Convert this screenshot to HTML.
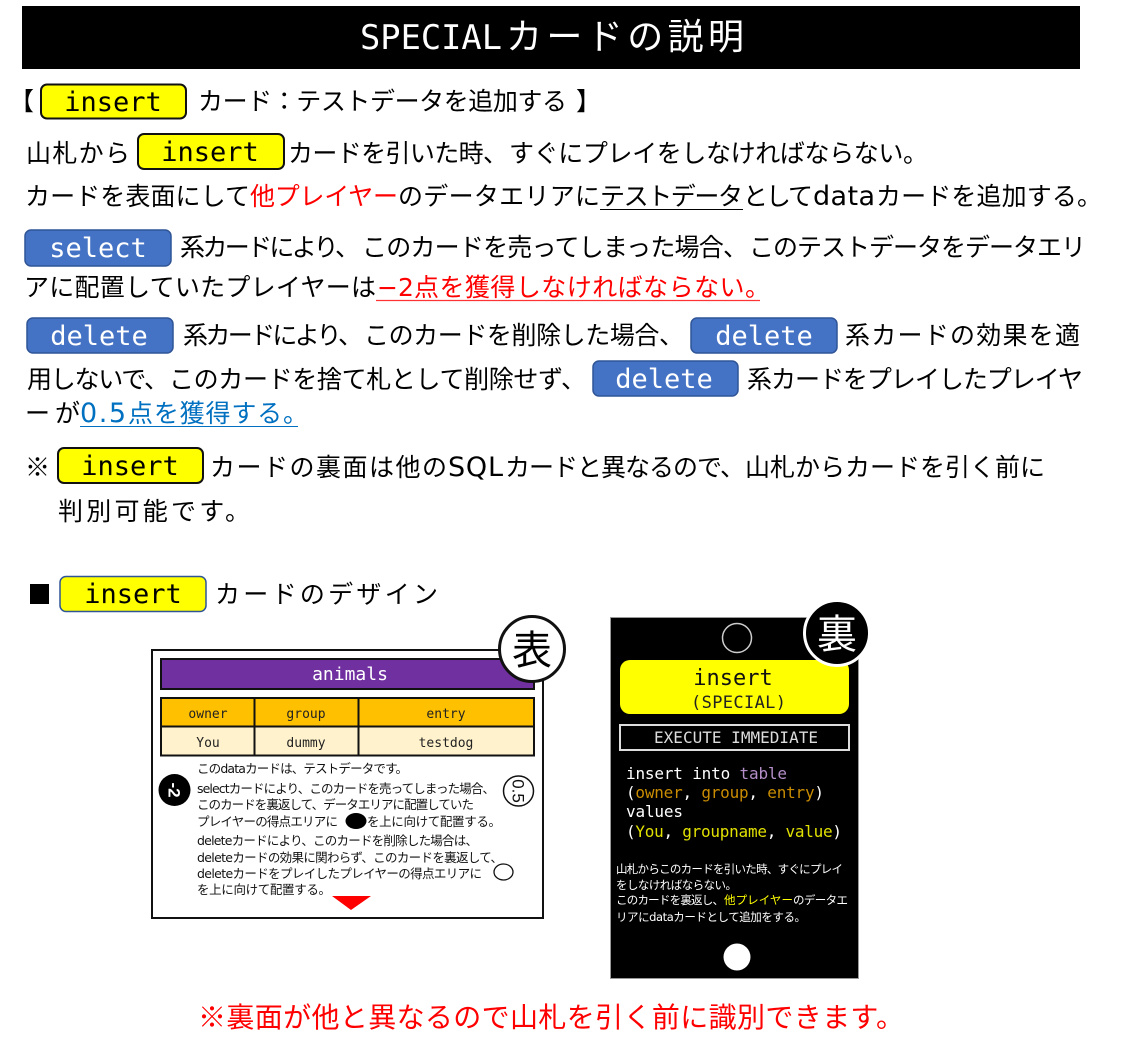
<!DOCTYPE html>
<html lang="ja"><head><meta charset="utf-8"><title>SPECIALカードの説明</title>
<style>
html,body{margin:0;padding:0;background:#fff}
svg{display:block}
text{white-space:pre;font-family:"Liberation Sans","WenQuanYi Zen Hei","Noto Sans CJK JP",sans-serif}
.j{font-family:"WenQuanYi Zen Hei","Noto Sans CJK JP",sans-serif;font-size:25px;fill:#000}
.s{font-family:"WenQuanYi Zen Hei","Noto Sans CJK JP",sans-serif;font-size:12.5px;fill:#111}
.w{font-family:"WenQuanYi Zen Hei","Noto Sans CJK JP",sans-serif;font-size:11.5px;fill:#fff}
.d{font-family:"DejaVu Sans",sans-serif}
.m{font-family:"DejaVu Sans Mono","Liberation Mono",monospace}
.pt{font-family:"DejaVu Sans Mono","Liberation Mono",monospace;font-size:27px;text-anchor:middle}
.c{font-family:"DejaVu Sans Mono","Liberation Mono",monospace;font-size:16px;fill:#fff}
.t{font-family:"DejaVu Sans Mono","Liberation Mono",monospace;font-size:13px;text-anchor:middle;fill:#222}
</style></head><body>
<svg width="1125" height="1052" viewBox="0 0 1125 1052" xmlns="http://www.w3.org/2000/svg">
<rect x="22" y="6" width="1058" height="63" fill="#000"/>
<text class="m" x="360" y="49" font-size="34" fill="#fff" textLength="142" lengthAdjust="spacingAndGlyphs">SPECIAL</text>
<text x="506" y="49" font-size="36" fill="#fff" textLength="238" style="font-family:'WenQuanYi Zen Hei','Noto Sans CJK JP',sans-serif">カードの説明</text>

<text class="j" x="9" y="110">【</text>
<rect x="41" y="84.500" width="145" height="34" rx="6" fill="#ff0" stroke="#111" stroke-width="2"/>
<text class="pt" x="113" y="111">insert</text>
<text class="j" x="198" y="110" textLength="369">カード：テストデータを追加する</text>
<text class="j" x="576" y="110">】</text>

<text class="j" x="26" y="162" textLength="104">山札から</text>
<rect x="138" y="134" width="146" height="35" rx="6" fill="#ff0" stroke="#111" stroke-width="2"/>
<text class="pt" x="210" y="161">insert</text>
<text class="j" x="288" y="162" textLength="220">カードを引いた時、</text>
<text class="j" x="509" y="162" textLength="419">すぐにプレイをしなければならない。</text>

<text class="j" x="25" y="205" textLength="225">カードを表面にして</text>
<text class="j" x="250" y="205" textLength="148" style="fill:#f00">他プレイヤー</text>
<text class="j" x="398" y="205" textLength="202">のデータエリアに</text>
<text class="j" x="600" y="205" textLength="143">テストデータ</text>
<line x1="600" y1="209.500" x2="743" y2="209.500" stroke="#000" stroke-width="1"/>
<text class="j" x="743" y="205" textLength="70">として</text>
<text class="d" x="813" y="205" font-size="27" textLength="62">data</text>
<text class="j" x="876" y="205" textLength="226">カードを追加する。</text>

<rect x="25" y="230" width="146" height="36" rx="6" fill="#4472c4" stroke="#2f5597" stroke-width="1.500"/>
<text class="pt" x="98" y="257" style="fill:#fff">select</text>
<text class="j" x="180" y="256" textLength="180">系カードにより、</text>
<text class="j" x="362" y="256" textLength="386">このカードを売ってしまった場合、</text>
<text class="j" x="749" y="256" textLength="337">このテストデータをデータエリ</text>

<text class="j" x="24" y="296" textLength="352">アに配置していたプレイヤーは</text>
<text class="d" x="377" y="296" font-size="25" fill="#f00">−2</text>
<text class="j" x="414" y="296" textLength="356" style="fill:#f00">点を獲得しなければならない。</text>
<line x1="376" y1="300.500" x2="760" y2="300.500" stroke="#f33" stroke-width="1.200"/>

<rect x="27" y="318" width="146" height="35" rx="6" fill="#4472c4" stroke="#2f5597" stroke-width="1.500"/>
<text class="pt" x="99" y="345" style="fill:#fff">delete</text>
<text class="j" x="183" y="344" textLength="180">系カードにより、</text>
<text class="j" x="364" y="344" textLength="320">このカードを削除した場合、</text>
<rect x="691" y="318" width="146" height="35" rx="6" fill="#4472c4" stroke="#2f5597" stroke-width="1.500"/>
<text class="pt" x="764" y="345" style="fill:#fff">delete</text>
<text class="j" x="845" y="344" textLength="235">系カードの効果を適</text>

<text class="j" x="27" y="388" textLength="142">用しないで、</text>
<text class="j" x="169" y="388" textLength="417">このカードを捨て札として削除せず、</text>
<rect x="593" y="361" width="145" height="35" rx="6" fill="#4472c4" stroke="#2f5597" stroke-width="1.500"/>
<text class="pt" x="664" y="388" style="fill:#fff">delete</text>
<text class="j" x="747" y="388" textLength="336">系カードをプレイしたプレイヤ</text>

<text class="j" x="25" y="422" textLength="55">ーが</text>
<text class="d" x="80" y="422" font-size="27" fill="#0070c0" textLength="46">0.5</text>
<text class="j" x="128" y="422" textLength="180" style="fill:#0070c0">点を獲得する。</text>
<line x1="80" y1="426.500" x2="298" y2="426.500" stroke="#0070c0" stroke-width="1"/>

<text class="j" x="25" y="476">※</text>
<rect x="58" y="448" width="145" height="35" rx="6" fill="#ff0" stroke="#111" stroke-width="2"/>
<text class="pt" x="130" y="475">insert</text>
<text class="j" x="210" y="476" textLength="237">カードの裏面は他の</text>
<text class="d" x="448" y="476" font-size="27" textLength="55">SQL</text>
<text class="j" x="505" y="476" textLength="240">カードと異なるので、</text>
<text class="j" x="745" y="476" textLength="300">山札からカードを引く前に</text>
<text class="j" x="58" y="520" textLength="192">判別可能です。</text>

<rect x="30" y="584" width="19" height="20" fill="#000"/>
<rect x="60" y="576.500" width="146" height="35" rx="6" fill="#ff0" stroke="#2f5597" stroke-width="1.500"/>
<text class="pt" x="133" y="603">insert</text>
<text class="j" x="215" y="603" textLength="223">カードのデザイン</text>

<!-- front card -->
<rect x="152" y="650" width="391" height="268" fill="#fff" stroke="#111" stroke-width="2"/>
<rect x="161" y="659" width="373" height="30" fill="#7030a0" stroke="#111" stroke-width="2"/>
<text class="m" x="350" y="680" font-size="18" fill="#fff" text-anchor="middle">animals</text>
<rect x="161" y="698" width="373" height="28.500" fill="#ffc000" stroke="#111" stroke-width="2"/>
<rect x="161" y="726.500" width="373" height="29" fill="#fff2cc" stroke="#111" stroke-width="2"/>
<line x1="254.500" y1="698" x2="254.500" y2="755" stroke="#111" stroke-width="2"/>
<line x1="358.500" y1="698" x2="358.500" y2="755" stroke="#111" stroke-width="2"/>
<text class="t" x="208" y="718">owner</text><text class="t" x="306" y="718">group</text><text class="t" x="446" y="718">entry</text>
<text class="t" x="208" y="747">You</text><text class="t" x="306" y="747">dummy</text><text class="t" x="446" y="747">testdog</text>

<text class="s" x="197" y="773" textLength="211">この<tspan class="d">data</tspan>カードは、テストデータです。</text>
<text class="s" x="197" y="793" textLength="298"><tspan class="d">select</tspan>カードにより、このカードを売ってしまった場合、</text>
<text class="s" x="197" y="809" textLength="277">このカードを裏返して、データエリアに配置していた</text>
<text class="s" x="197" y="826" textLength="141">プレイヤーの得点エリアに</text>
<ellipse cx="356" cy="821" rx="10.500" ry="8" fill="#000"/>
<text class="s" x="367" y="826" textLength="134">を上に向けて配置する。</text>
<text class="s" x="197" y="845" textLength="281"><tspan class="d">delete</tspan>カードにより、このカードを削除した場合は、</text>
<text class="s" x="197" y="862" textLength="306"><tspan class="d">delete</tspan>カードの効果に関わらず、このカードを裏返して、</text>
<text class="s" x="197" y="878" textLength="285"><tspan class="d">delete</tspan>カードをプレイしたプレイヤーの得点エリアに</text>
<ellipse cx="503.500" cy="872" rx="9.500" ry="8" fill="#fff" stroke="#111" stroke-width="1.300"/>
<text class="s" x="197" y="894" textLength="134">を上に向けて配置する。</text>
<circle cx="174.500" cy="790" r="16" fill="#000"/>
<text x="0" y="0" transform="translate(168.500,790) rotate(90)" font-size="17" font-weight="bold" fill="#fff" text-anchor="middle">-2</text>
<circle cx="518.500" cy="791" r="15" fill="#fff" stroke="#111" stroke-width="1.500"/>
<text x="0" y="0" transform="translate(512.500,791) rotate(90)" font-size="17" fill="#111" text-anchor="middle">0.5</text>
<polygon points="332,896 371,896 351,910" fill="#f00"/>
<circle cx="532" cy="649" r="32.500" fill="#fff" stroke="#111" stroke-width="3"/>
<text x="532" y="664" font-size="40" fill="#000" text-anchor="middle" style="font-family:'WenQuanYi Zen Hei','Noto Sans CJK JP',sans-serif">表</text>

<!-- back card -->
<rect x="610.500" y="617.500" width="248" height="361" fill="#000" stroke="#999" stroke-width="1"/>
<circle cx="737" cy="638" r="14.500" fill="none" stroke="#ccc" stroke-width="1.500"/>
<rect x="620" y="660" width="229" height="54" rx="10" fill="#ff0"/>
<text class="m" x="733" y="685" font-size="22" fill="#111" text-anchor="middle">insert</text>
<text class="m" x="691" y="708" font-size="17" fill="#222" textLength="95">(SPECIAL)</text>
<rect x="620" y="725" width="229" height="25" fill="#000" stroke="#ddd" stroke-width="2"/>
<text class="m" x="654" y="743" font-size="16" fill="#ddd" textLength="164">EXECUTE IMMEDIATE</text>
<text class="c" x="626" y="779" textLength="161">insert into <tspan fill="#b48ec8">table</tspan></text>
<text class="c" x="626" y="798" textLength="198">(<tspan fill="#c98c00">owner</tspan>, <tspan fill="#c98c00">group</tspan>, <tspan fill="#c98c00">entry</tspan>)</text>
<text class="c" x="626" y="817" textLength="57">values</text>
<text class="c" x="626" y="837" textLength="216">(<tspan fill="#e0e000">You</tspan>, <tspan fill="#e0e000">groupname</tspan>, <tspan fill="#e0e000">value</tspan>)</text>
<text class="w" x="616" y="873" textLength="227">山札からこのカードを引いた時、すぐにプレイ</text>
<text class="w" x="616" y="889" textLength="121">をしなければならない。</text>
<text class="w" x="616" y="904" textLength="108">このカードを裏返し、</text>
<text class="w" x="724" y="904" textLength="69" style="fill:#ff0">他プレイヤー</text>
<text class="w" x="793" y="904" textLength="55">のデータエ</text>
<text class="w" x="616" y="921" textLength="190">リアに<tspan class="d">data</tspan>カードとして追加をする。</text>
<circle cx="737" cy="957" r="13.500" fill="#fff"/>
<circle cx="837" cy="633" r="32.500" fill="#000" stroke="#fff" stroke-width="3"/>
<text x="837" y="648" font-size="40" fill="#fff" text-anchor="middle" style="font-family:'WenQuanYi Zen Hei','Noto Sans CJK JP',sans-serif">裏</text>

<text class="j" x="198" y="1027" textLength="706" style="fill:#f00;font-size:28px">※裏面が他と異なるので山札を引く前に識別できます。</text>
</svg>
</body></html>
